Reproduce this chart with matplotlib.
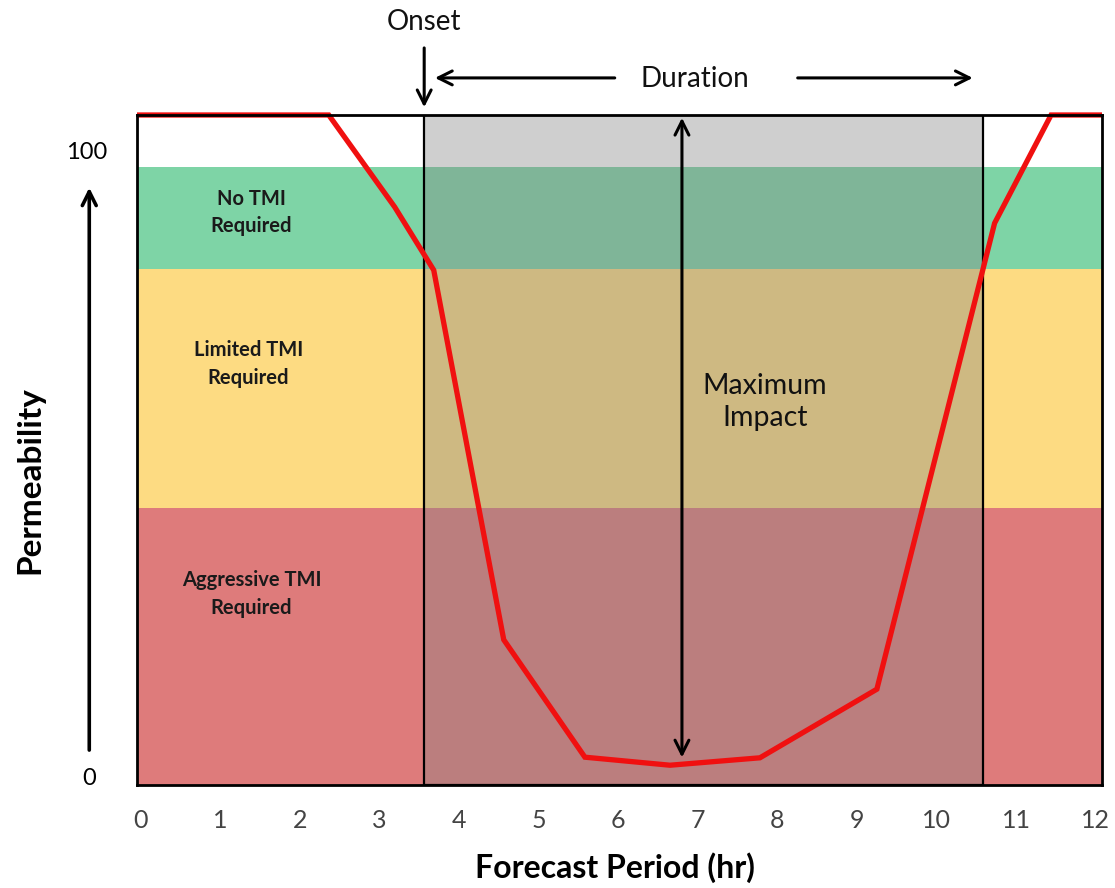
import matplotlib.pyplot as plt
from matplotlib.patches import Rectangle

plt.rcParams['font.family'] = ['Lato', 'DejaVu Sans']

# forecast curve (hours, permeability)
hours = [-0.05, 2.36, 3.19, 3.68, 4.56, 5.58, 6.65, 7.78, 9.25, 10.73, 11.44, 12.08]
perm = [108.4, 108.4, 93.5, 83.3, 23.5, 4.5, 3.2, 4.4, 15.5, 90.9, 108.4, 108.4]

# permeability bands
band_edges = [0, 44.8, 83.5, 100]
band_colors = ['#de7b7b', '#fddb82', '#7ed4a6']
band_labels = ['Aggressive TMI\nRequired', 'Limited TMI\nRequired', 'No TMI\nRequired']

# event window
onset = 3.56
end = 10.59
low_point = 4.0

xticks = list(range(13))
xmin, xmax = -0.05, 12.08
ymax = 108.4

fig = plt.figure(figsize=(11.15, 8.88), dpi=100)
ax = fig.add_axes([137 / 1115, 1 - 785 / 888, (1102 - 137) / 1115, (785 - 115) / 888])
ax.set_xlim(xmin, xmax)
ax.set_ylim(0, ymax)

for i, c in enumerate(band_colors):
    ax.axhspan(band_edges[i], band_edges[i + 1], color=c, lw=0, zorder=0)

label_y = [30.9, 68.1, 92.6]
label_x = [1.39, 1.35, 1.39]
for lab, lx, ly in zip(band_labels, label_x, label_y):
    ax.text(lx, ly, lab, ha='center', va='center', fontsize=14.5, fontweight='bold',
            color='#1a1a1a', linespacing=1.45)

# shaded duration window
ax.add_patch(Rectangle((onset, 0), end - onset, ymax, facecolor='#838383', alpha=0.38,
                       edgecolor='none', zorder=2))
ax.add_patch(Rectangle((onset, 0), end - onset, ymax, facecolor='none',
                       edgecolor='black', lw=1.6, zorder=3))

ax.plot(hours, perm, color='#f01010', lw=3.8, zorder=4, clip_on=False,
        solid_joinstyle='miter', solid_capstyle='butt')

# maximum impact arrow
ax.annotate('', xy=(6.80, low_point), xytext=(6.80, ymax),
            arrowprops=dict(arrowstyle='<->', color='black', lw=2.2, mutation_scale=25), zorder=5)
ax.text(7.84, 62, 'Maximum\nImpact', ha='center', va='center', fontsize=20.5,
        color='#111111', linespacing=1.3, zorder=6)

# onset and duration arrows above the plot
ax.annotate('', xy=(onset, 109.2), xytext=(onset, 119.7), annotation_clip=False,
            arrowprops=dict(arrowstyle='->', color='black', lw=2.2, mutation_scale=25))
ax.text(onset, 123.5, 'Onset', ha='center', va='center', fontsize=20, color='#111111', clip_on=False)
ax.annotate('', xy=(3.66, 114.4), xytext=(5.99, 114.4), annotation_clip=False,
            arrowprops=dict(arrowstyle='->', color='black', lw=2.2, mutation_scale=25))
ax.annotate('', xy=(10.49, 114.4), xytext=(8.22, 114.4), annotation_clip=False,
            arrowprops=dict(arrowstyle='->', color='black', lw=2.2, mutation_scale=25))
ax.text(6.96, 114.3, 'Duration', ha='center', va='center', fontsize=20, color='#111111', clip_on=False)

# left axis arrow and end labels
ax.annotate('', xy=(-0.65, 97.1), xytext=(-0.65, 5.2), annotation_clip=False,
            arrowprops=dict(arrowstyle='->', color='black', lw=2.6, mutation_scale=25))
ax.text(-0.68, 102.3, '100', ha='center', va='center', fontsize=17, clip_on=False)
ax.text(-0.65, 1.1, '0', ha='center', va='center', fontsize=17, clip_on=False)

ax.set_xticks(xticks)
ax.set_xticklabels([str(t) for t in xticks], fontsize=18, color='#444444')
ax.tick_params(axis='x', length=0, pad=17)
ax.set_yticks([])
for s in ax.spines.values():
    s.set_linewidth(2.0)
    s.set_zorder(5)

fig.text(615 / 1115, 1 - 868 / 888, 'Forecast Period (hr)', ha='center', va='center',
         fontsize=23, fontweight='bold')
fig.text(30 / 1115, 1 - 480 / 888, 'Permeability', ha='center', va='center',
         fontsize=24, fontweight='bold', rotation=90)

fig.savefig('out.png', dpi=100)
